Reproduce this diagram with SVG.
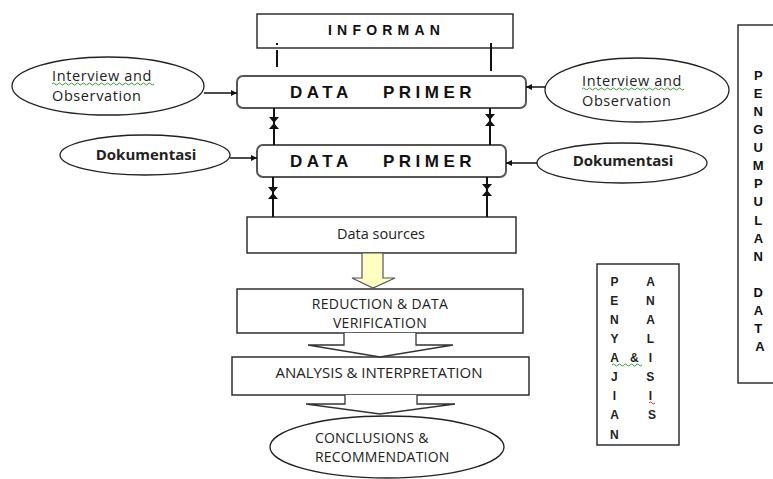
<svg xmlns="http://www.w3.org/2000/svg" width="773" height="479" viewBox="0 0 773 479">
  <defs>
    <style>
      .box { fill: #fff; stroke: #222; stroke-width: 1.4; }
      .rbox { fill: #fff; stroke: #555; stroke-width: 2; }
      .oval { fill: #fff; stroke: #222; stroke-width: 1.3; }
      .line { fill: none; stroke: #111; stroke-width: 2; }
      .arr { fill: none; stroke: #111; stroke-width: 1.5; marker-end: url(#tip); }
      .head { fill: #111; }
      .chev { fill: #fff; stroke: #333; stroke-width: 1.3; }
      .spaced { font-family: "Liberation Sans", Arial, sans-serif; font-weight: bold; fill: #111; }
      .soft { font-family: "Open Sans", "Liberation Sans", sans-serif; fill: #222; }
      .stack { font-family: "Liberation Sans", Arial, sans-serif; fill: #222; }
      .green { fill: none; stroke: #3a9a3a; stroke-width: 1; }
      .red { fill: none; stroke: #d22; stroke-width: 1; }
    </style>
    <marker id="tip" viewBox="0 0 10 10" refX="10" refY="5" markerWidth="6" markerHeight="6" orient="auto" markerUnits="userSpaceOnUse">
      <path d="M0,0 L10,5 L0,10 z" fill="#111"/>
    </marker>
  </defs>

  <!-- informant box -->
  <g id="informan">
    <rect class="box" x="257" y="14" width="256" height="34"/>
    <text class="spaced" x="328" y="35" font-size="14" letter-spacing="5.2">INFORMAN</text>
  </g>

  <!-- primary data, first row -->
  <g id="data-primer-1">
    <rect class="rbox" x="237" y="76" width="289" height="32" rx="6"/>
    <text class="spaced" y="98" font-size="17" letter-spacing="4.5"><tspan x="290">DATA</tspan><tspan x="383">PRIMER</tspan></text>
  </g>

  <!-- primary data, second row -->
  <g id="data-primer-2">
    <rect class="rbox" x="257" y="145" width="249" height="32" rx="6"/>
    <text class="spaced" y="167" font-size="17" letter-spacing="4.5"><tspan x="290">DATA</tspan><tspan x="383">PRIMER</tspan></text>
  </g>

  <g id="interview-left">
    <ellipse class="oval" cx="108" cy="86" rx="96" ry="29"/>
    <text class="soft" x="52" y="81" font-size="14.5" letter-spacing="0.6">Interview and</text>
    <text class="soft" x="52" y="101" font-size="14.5" letter-spacing="0.6">Observation</text>
    <path class="green" d="M52,84 q1.5,-2 3,0 t3,0 t3,0 t3,0 t3,0 t3,0 t3,0 t3,0 t3,0 t3,0 t3,0 t3,0 t3,0 t3,0 t3,0 t3,0 t3,0 t3,0 t3,0 t3,0 t3,0 t3,0 t3,0 t3,0 t3,0 t3,0 t3,0 t3,0 t3,0 t3,0 t3,0 t3,0 t3,0 t3,0"/>
  </g>

  <g id="interview-right">
    <ellipse class="oval" cx="637" cy="90" rx="92" ry="32"/>
    <text class="soft" x="582" y="86" font-size="14.5" letter-spacing="0.6">Interview and</text>
    <text class="soft" x="582" y="106" font-size="14.5" letter-spacing="0.6">Observation</text>
    <path class="green" d="M582,89 q1.5,-2 3,0 t3,0 t3,0 t3,0 t3,0 t3,0 t3,0 t3,0 t3,0 t3,0 t3,0 t3,0 t3,0 t3,0 t3,0 t3,0 t3,0 t3,0 t3,0 t3,0 t3,0 t3,0 t3,0 t3,0 t3,0 t3,0 t3,0 t3,0 t3,0 t3,0 t3,0 t3,0 t3,0 t3,0"/>
  </g>

  <g id="dokumentasi-left">
    <ellipse class="oval" cx="145" cy="155" rx="85" ry="20"/>
    <text class="soft" x="146" y="160" font-size="15" font-weight="bold" text-anchor="middle" fill="#111">Dokumentasi</text>
  </g>

  <g id="dokumentasi-right">
    <ellipse class="oval" cx="622" cy="163" rx="85" ry="20"/>
    <text class="soft" x="623" y="166" font-size="15" font-weight="bold" text-anchor="middle" fill="#111">Dokumentasi</text>
  </g>

  <g id="data-sources">
    <rect class="box" x="247" y="217" width="269" height="36"/>
    <text class="soft" x="381" y="239" font-size="14.5" text-anchor="middle">Data sources</text>
  </g>

  <g id="reduction">
    <rect class="box" x="237" y="289" width="286" height="44"/>
    <text class="soft" x="380" y="309" font-size="14" letter-spacing="0.3" text-anchor="middle">REDUCTION  &amp; DATA</text>
    <text class="soft" x="380" y="328" font-size="14" letter-spacing="0.3" text-anchor="middle">VERIFICATION</text>
  </g>

  <g id="analysis">
    <rect class="box" x="232" y="357" width="297" height="38"/>
    <text class="soft" x="379" y="378" font-size="15" text-anchor="middle">ANALYSIS &amp; INTERPRETATION</text>
  </g>

  <g id="conclusions">
    <ellipse class="oval" cx="387" cy="447" rx="117" ry="31"/>
    <text class="soft" x="315" y="443" font-size="14" letter-spacing="0.2">CONCLUSIONS &amp;</text>
    <text class="soft" x="315" y="462" font-size="14" letter-spacing="0.2">RECOMMENDATION</text>
  </g>

  <g id="pengumpulan-data">
    <rect class="box" x="738" y="25" width="45" height="358"/>
    <text class="spaced" font-size="13" text-anchor="middle">
      <tspan x="760" y="80">P</tspan>
      <tspan x="760" y="98">E</tspan>
      <tspan x="760" y="116">N</tspan>
      <tspan x="760" y="134">G</tspan>
      <tspan x="760" y="152">U</tspan>
      <tspan x="760" y="170">M</tspan>
      <tspan x="760" y="188">P</tspan>
      <tspan x="760" y="206">U</tspan>
      <tspan x="760" y="225">L</tspan>
      <tspan x="760" y="243">A</tspan>
      <tspan x="760" y="261">N</tspan>
      <tspan x="760" y="297">D</tspan>
      <tspan x="760" y="315">A</tspan>
      <tspan x="760" y="333">T</tspan>
      <tspan x="760" y="351">A</tspan>
    </text>
  </g>

  <g id="penyajian-analisis">
    <rect class="box" x="597" y="264" width="82" height="181"/>
    <text class="stack" font-size="12" font-weight="bold" text-anchor="middle">
      <tspan x="616" y="286">P</tspan>
      <tspan x="616" y="305">E</tspan>
      <tspan x="616" y="324">N</tspan>
      <tspan x="616" y="343">Y</tspan>
      <tspan x="616" y="362">A</tspan>
      <tspan x="616" y="381">J</tspan>
      <tspan x="616" y="400">I</tspan>
      <tspan x="616" y="419">A</tspan>
      <tspan x="616" y="439">N</tspan>
      <tspan x="636" y="362">&amp;</tspan>
      <tspan x="652" y="286">A</tspan>
      <tspan x="652" y="305">N</tspan>
      <tspan x="652" y="324">A</tspan>
      <tspan x="652" y="343">L</tspan>
      <tspan x="652" y="362">I</tspan>
      <tspan x="652" y="381">S</tspan>
      <tspan x="652" y="400">I</tspan>
      <tspan x="652" y="419">S</tspan>
    </text>
    <path class="green" d="M612,365 q1.5,-2 3,0 t3,0 t3,0 t3,0 t3,0 t3,0 t3,0 t3,0 t3,0 t3,0"/>
    <path class="red" d="M649,403 q1.5,-2 3,0 t3,0"/>
  </g>

  <g id="connectors">
    <!-- stubs below the informant box -->
    <line class="line" x1="277" y1="43" x2="277" y2="45" stroke-width="1"/>
    <line class="line" x1="277" y1="50" x2="277" y2="67"/>
    <line class="line" x1="491" y1="43" x2="491" y2="71"/>

    <!-- side inputs -->
    <line class="arr" x1="204" y1="93" x2="237" y2="93"/>
    <line class="arr" x1="545" y1="87" x2="526" y2="87"/>
    <line class="arr" x1="230" y1="158" x2="257" y2="158"/>
    <line class="arr" x1="537" y1="163" x2="506" y2="163"/>

    <!-- two-way links between the primary data rows -->
    <line class="line" x1="274" y1="108" x2="274" y2="145"/>
    <path class="head" d="M269,117 L279,117 L274,123 z M269,129 L279,129 L274,123 z"/>
    <line class="line" x1="490" y1="108" x2="490" y2="145"/>
    <path class="head" d="M485,114 L495,114 L490,120 z M485,126 L495,126 L490,120 z"/>

    <!-- two-way links down to the data sources -->
    <line class="line" x1="273" y1="177" x2="273" y2="217"/>
    <path class="head" d="M268,187 L278,187 L273,193 z M268,199 L278,199 L273,193 z"/>
    <line class="line" x1="487" y1="177" x2="487" y2="217"/>
    <path class="head" d="M482,184 L492,184 L487,190 z M482,196 L492,196 L487,190 z"/>

    <!-- block arrow into reduction -->
    <polygon points="362,253 383,253 383,278 395,278 373,288 352,278 362,278" fill="#ffffc4" stroke="#555" stroke-width="1.2"/>

    <!-- chevrons between the processing steps -->
    <polyline class="chev" points="344,333 344,345 308,345 380,357 453,345 416,345 416,333"/>
    <polyline class="chev" points="345,395 345,404 306,404 380,414 455,404 417,404 417,395"/>
  </g>
</svg>
